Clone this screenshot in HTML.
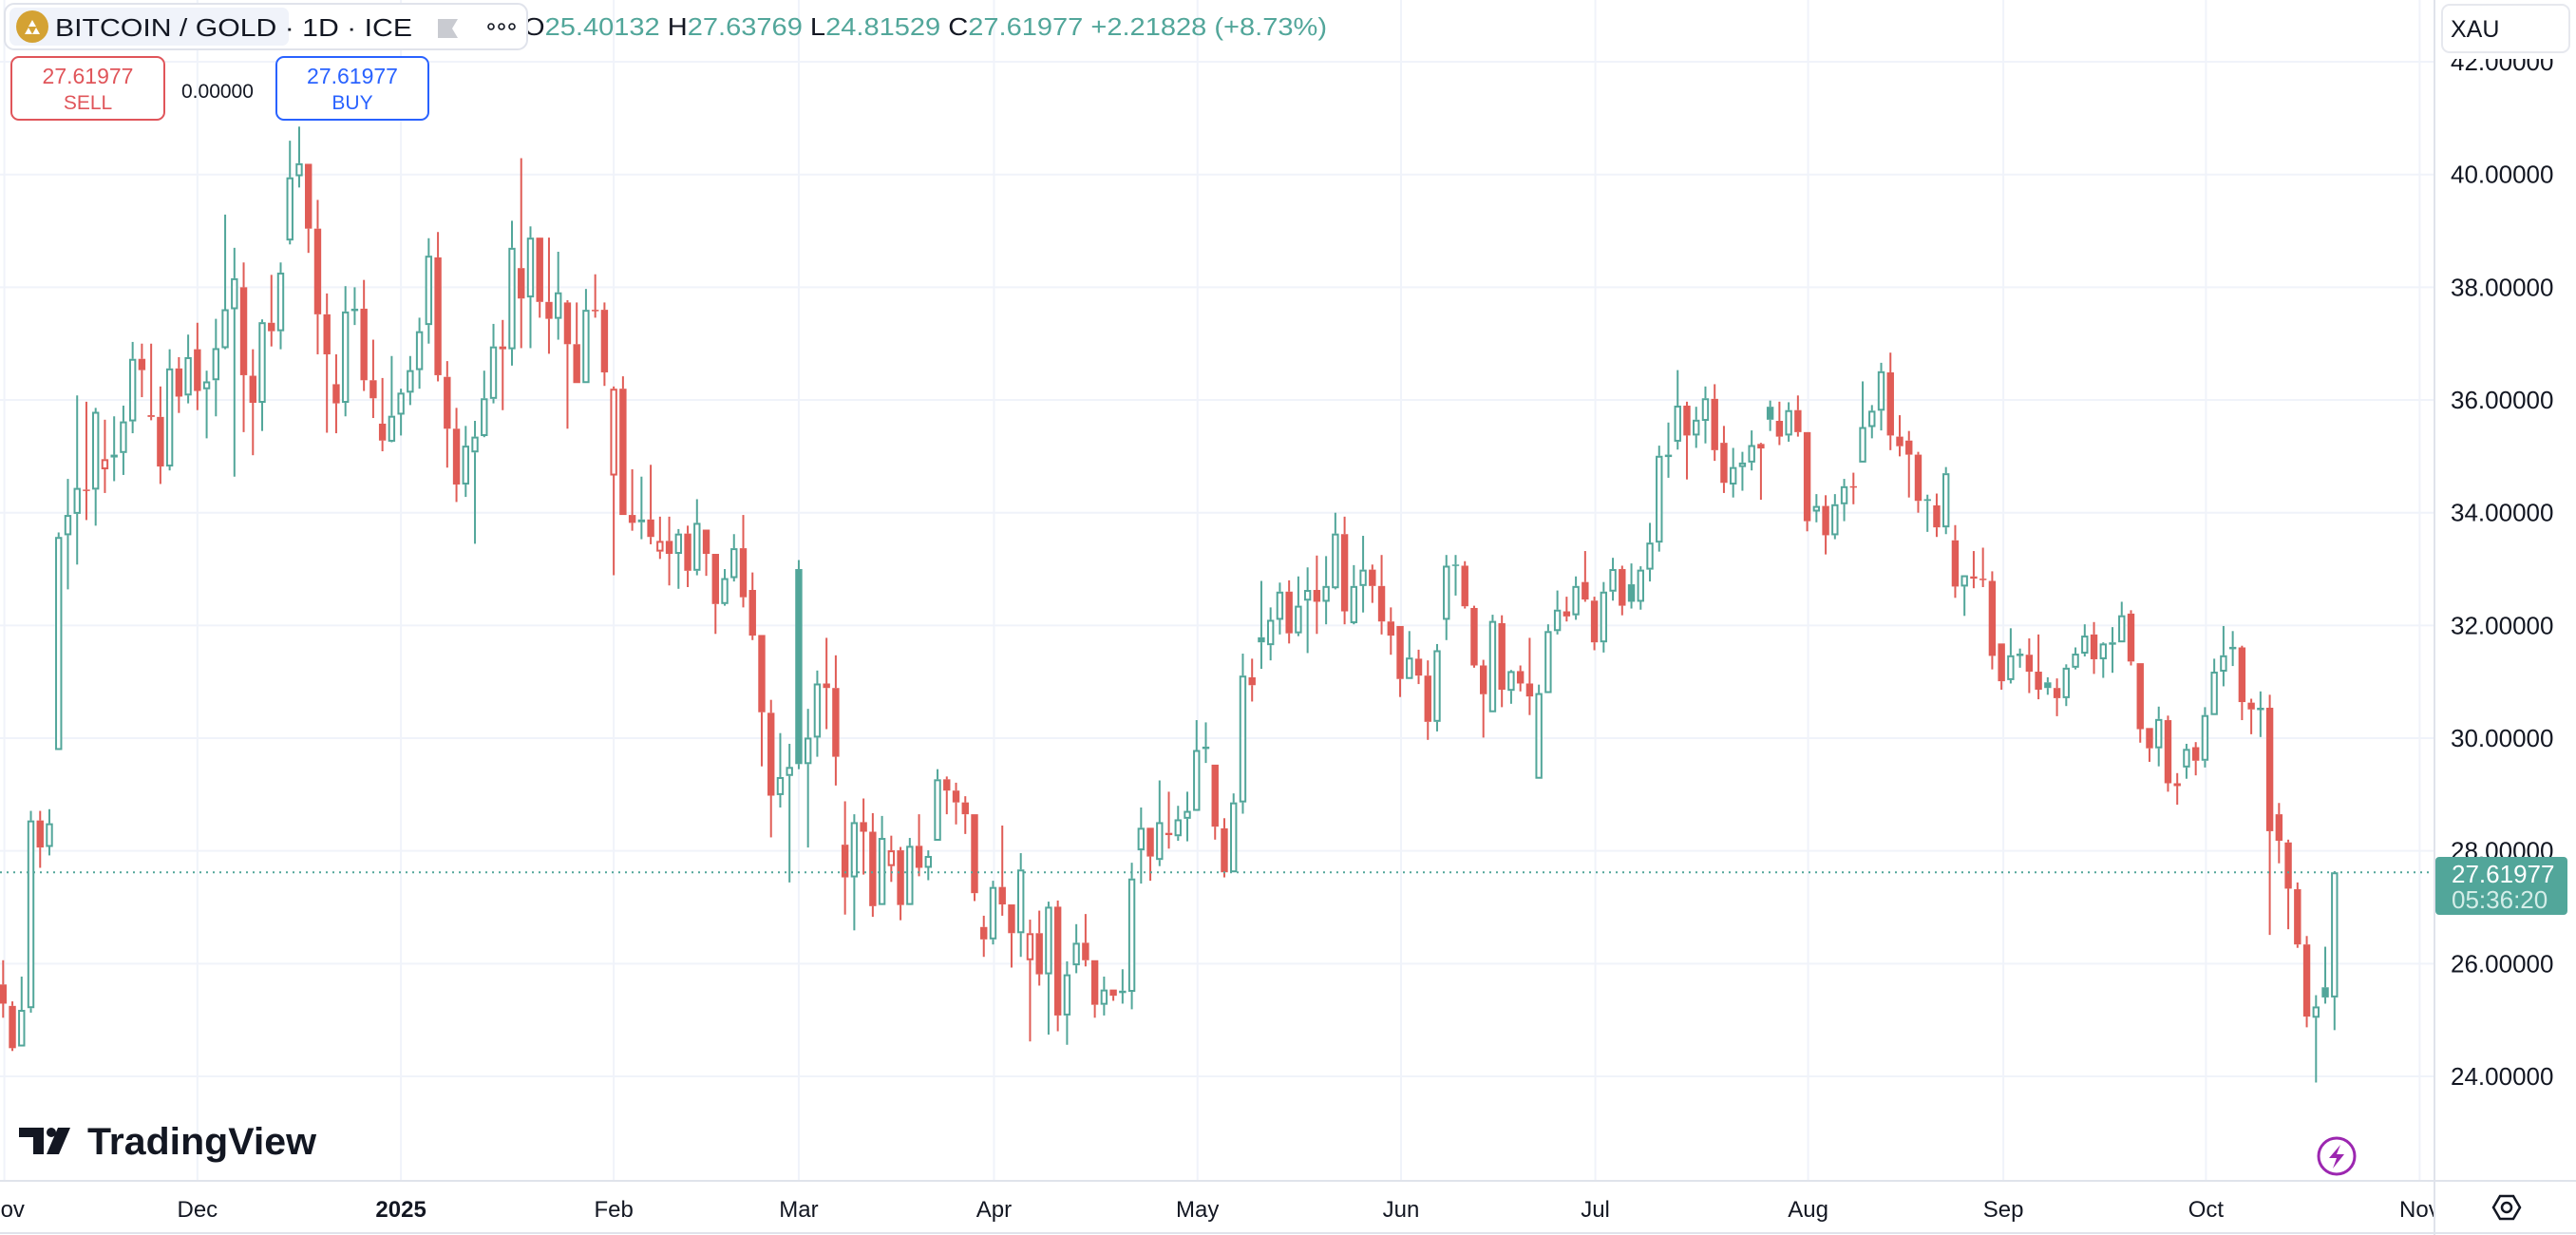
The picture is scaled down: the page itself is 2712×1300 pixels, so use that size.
<!DOCTYPE html>
<html><head><meta charset="utf-8"><title>BITCOIN / GOLD</title>
<style>
html,body{margin:0;padding:0;background:#fff;}
svg{display:block;font-family:"Liberation Sans",sans-serif;}
</style></head>
<body>
<svg id="chart" width="2712" height="1300" viewBox="0 0 2712 1300" xmlns="http://www.w3.org/2000/svg">
  <rect x="0" y="0" width="2712" height="1300" fill="#ffffff"/>
  <g id="grid"></g>
  <g id="candles"></g>
  <line id="lastline" x1="0" x2="2563" stroke="#52a69a" stroke-width="2" stroke-dasharray="2 5"/>
  <!-- axes -->
  <rect x="2563" y="0" width="149" height="1300" fill="#fff"/>
  <line x1="2563" y1="0" x2="2563" y2="1300" stroke="#e0e3eb" stroke-width="2"/>
  <line x1="0" y1="1243" x2="2712" y2="1243" stroke="#e0e3eb" stroke-width="2"/>
  <line x1="0" y1="1298" x2="2712" y2="1298" stroke="#e0e3eb" stroke-width="2"/>
  <g id="yticks"></g>
  <g id="xticks"></g>

  <!-- header -->
  <text x="551" y="37" font-size="26" textLength="846" lengthAdjust="spacingAndGlyphs"><tspan fill="#131722">O</tspan><tspan fill="#52a69a">25.40132 </tspan><tspan fill="#131722">H</tspan><tspan fill="#52a69a">27.63769 </tspan><tspan fill="#131722">L</tspan><tspan fill="#52a69a">24.81529 </tspan><tspan fill="#131722">C</tspan><tspan fill="#52a69a">27.61977 +2.21828 (+8.73%)</tspan></text>
  <g>
    <rect x="5" y="4" width="550" height="48" rx="10" fill="#ffffff" stroke="#e0e3eb" stroke-width="2"/>
    <rect x="10" y="8" width="294" height="40" rx="7" fill="#f0f3fa"/>
    <circle cx="34" cy="28" r="17" fill="#d4a233"/>
    <path d="M26 36 L30 29 L34 36 Z M34 36 L38 29 L42 36 Z M30 28 L34 21 L38 28 Z" fill="#fff"/>
    <text x="58" y="38" font-size="26" fill="#131722" textLength="376" lengthAdjust="spacingAndGlyphs">BITCOIN / GOLD · 1D · ICE</text>
    <path d="M461 20 L482 20 L476 30 L482 40 L461 40 Z" fill="#c9cbd1"/>
    <g fill="none" stroke="#131722" stroke-width="1.6">
      <circle cx="517" cy="28" r="3"/><circle cx="528" cy="28" r="3"/><circle cx="539" cy="28" r="3"/>
    </g>
  </g>
  <g>
    <rect x="12" y="60" width="161" height="66" rx="8" fill="#fff" stroke="#e0555a" stroke-width="2"/>
    <text x="92.5" y="88" font-size="23" fill="#e0555a" text-anchor="middle">27.61977</text>
    <text x="92.5" y="115" font-size="21" fill="#e0555a" text-anchor="middle">SELL</text>
  </g>
  <text x="191" y="103" font-size="21" fill="#131722">0.00000</text>
  <g>
    <rect x="291" y="60" width="160" height="66" rx="8" fill="#fff" stroke="#2962ff" stroke-width="2"/>
    <text x="371" y="88" font-size="23" fill="#2962ff" text-anchor="middle">27.61977</text>
    <text x="371" y="115" font-size="21" fill="#2962ff" text-anchor="middle">BUY</text>
  </g>

  <g>
    <rect x="2565" y="0" width="147" height="62" fill="#fff"/>
    <rect x="2571" y="5" width="134" height="50" rx="8" fill="#fff" stroke="#e6e8ee" stroke-width="2"/>
    <text x="2580" y="39" font-size="25" fill="#131722">XAU</text>
  </g>

  <g>
    <rect x="2564" y="902" width="139" height="61" rx="4" fill="#52a69a"/>
    <text x="2581" y="929" font-size="26" fill="#ffffff">27.61977</text>
    <text x="2581" y="956" font-size="26" fill="#d4ede8">05:36:20</text>
  </g>

  <g>
    <path d="M20 1187 H46 V1215 H35 V1197 H20 Z" fill="#131722"/>
    <circle cx="54" cy="1192" r="5" fill="#131722"/>
    <path d="M61 1187 H74 L62 1215 H49 Z" fill="#131722"/>
    <text x="92" y="1215" font-size="40" font-weight="bold" fill="#131722" textLength="241" lengthAdjust="spacingAndGlyphs">TradingView</text>
  </g>

  <g>
    <circle cx="2460" cy="1217" r="19" fill="none" stroke="#9c27b0" stroke-width="3"/>
    <path d="M2464 1205 L2452 1219 L2460 1219 L2456 1230 L2468 1215 L2460 1215 Z" fill="#9c27b0"/>
  </g>
  <g fill="none" stroke="#131722" stroke-width="2.5">
    <path d="M2625 1271 L2632 1259 L2646 1259 L2653 1271 L2646 1283 L2632 1283 Z"/>
    <circle cx="2639" cy="1271" r="5"/>
  </g>
</svg>
<script>
const opens = [25.63,25.25,24.53,25.21,28.54,28.07,29.79,33.60,33.98,34.41,34.41,34.77,34.98,35.06,35.62,36.73,35.73,35.70,34.82,36.56,36.08,36.90,36.19,36.35,36.92,37.61,38.00,36.43,35.95,37.37,37.22,38.83,39.97,40.19,39.04,37.52,36.28,35.95,37.60,37.62,36.35,35.58,35.26,35.74,36.13,36.53,37.33,38.53,36.41,35.49,34.50,35.07,35.36,36.02,36.95,36.90,38.34,37.82,38.88,37.74,37.44,37.73,36.99,36.30,37.60,37.60,34.66,36.20,33.96,33.83,33.88,33.31,33.50,33.27,33.63,32.97,33.70,33.27,32.38,32.84,33.37,32.63,31.83,30.45,28.99,29.33,33.00,29.54,30.01,30.97,30.89,28.11,27.53,28.51,28.34,27.04,27.73,28.01,27.04,28.09,27.70,28.18,29.27,29.07,28.86,28.65,26.65,26.43,27.36,27.05,26.54,26.06,26.54,25.81,27.01,25.08,25.97,26.37,26.06,25.27,25.54,25.50,25.50,28.01,28.41,27.84,28.32,28.26,28.57,28.71,29.81,29.53,28.40,27.62,28.86,31.08,31.79,31.65,32.10,32.60,31.86,32.44,32.63,32.42,32.66,33.62,32.04,32.70,32.99,32.70,32.07,31.99,31.05,31.41,31.11,30.29,32.10,33.08,33.06,32.31,31.29,30.46,32.04,30.84,31.19,30.97,29.28,30.80,31.90,32.25,32.18,32.77,32.44,31.70,32.60,33.00,32.73,32.42,32.99,33.47,35.01,35.26,35.90,35.37,35.63,36.02,35.24,34.50,34.81,34.89,35.22,35.88,35.63,35.37,35.82,35.43,34.02,34.12,33.60,34.15,34.47,34.89,35.52,35.81,36.49,35.35,35.28,35.03,34.24,34.13,33.74,33.51,32.69,32.87,32.83,32.79,31.68,31.03,31.48,31.48,31.18,30.99,30.89,30.71,31.25,31.50,31.84,31.40,31.69,31.70,32.21,31.33,30.18,29.82,30.32,29.20,29.48,29.84,29.60,30.41,31.18,31.61,31.61,30.63,30.52,30.54,28.65,28.15,27.32,26.34,25.04,25.58,25.40];
const highs = [26.06,25.33,25.77,28.71,28.71,28.74,33.65,34.60,36.08,35.97,35.86,35.65,35.71,35.90,37.03,37.00,37.00,36.24,36.90,36.76,37.16,37.37,36.52,37.44,39.29,38.70,38.44,36.90,37.43,38.22,38.44,40.60,40.85,40.19,39.55,37.89,36.81,38.02,38.00,38.13,37.07,36.39,36.78,36.20,36.78,37.46,38.87,38.98,36.69,35.86,35.54,35.63,36.52,37.35,37.42,39.18,40.29,39.08,38.88,38.88,38.63,37.77,37.73,37.97,38.23,37.73,36.24,36.42,34.77,34.64,34.85,33.93,33.93,33.71,33.77,34.24,33.70,33.27,33.00,33.62,33.96,32.94,31.83,30.68,30.09,29.90,33.16,30.52,31.20,31.78,31.47,28.88,28.65,28.93,28.67,28.62,28.27,28.07,28.23,28.65,28.01,29.45,29.32,29.21,28.97,28.65,26.85,27.47,28.45,27.05,27.96,26.78,26.94,27.10,27.12,26.04,26.70,26.88,26.06,25.77,25.54,25.90,27.79,28.77,28.41,29.25,29.05,28.80,29.05,30.32,30.28,29.53,28.58,29.02,31.50,31.41,32.79,32.32,32.76,32.80,32.87,33.03,33.24,33.23,34.00,33.93,33.07,33.59,33.08,33.25,32.32,31.99,31.90,31.57,31.38,31.67,33.25,33.25,33.14,32.35,31.39,32.19,32.18,31.21,31.29,31.78,30.95,32.02,32.62,32.51,32.87,33.32,32.51,32.77,33.20,33.06,33.10,33.05,33.82,35.19,35.60,36.53,35.97,35.88,36.24,36.28,35.54,35.15,35.08,35.46,35.24,35.99,35.97,35.96,36.08,35.43,34.33,34.31,34.33,34.60,34.71,36.33,35.91,36.66,36.84,35.73,35.45,35.08,34.32,34.34,34.81,33.78,32.89,33.32,33.38,32.96,31.68,31.95,31.59,31.77,31.84,31.08,31.06,31.31,31.61,32.02,32.06,31.70,31.97,32.42,32.27,31.33,30.18,30.56,30.40,29.38,29.90,29.93,30.55,31.41,31.99,31.90,31.64,30.70,30.83,30.77,28.85,28.20,27.44,26.49,25.44,26.30,27.64];
const lows = [25.04,24.45,24.53,25.13,27.70,27.92,29.79,32.64,33.08,33.87,33.77,34.35,34.56,34.67,35.41,36.05,35.64,34.51,34.75,35.77,35.94,35.82,35.32,35.71,36.90,34.64,35.43,35.02,35.45,36.95,36.90,38.76,39.77,38.61,36.81,35.42,35.41,35.71,37.33,36.16,35.68,35.09,35.25,35.37,35.91,36.20,37.00,36.33,34.80,34.19,34.28,33.45,35.34,35.94,35.82,36.61,36.92,36.92,37.46,36.82,37.07,35.49,36.30,36.30,37.46,36.25,32.89,33.96,33.68,33.53,33.44,33.18,32.71,32.65,32.68,32.89,32.88,31.85,32.35,32.78,32.32,31.74,29.50,28.24,28.77,27.44,29.45,28.06,29.67,30.16,29.16,26.87,26.59,27.58,26.83,27.04,27.45,26.77,27.04,27.55,27.48,28.18,28.65,28.47,28.30,27.11,26.12,26.34,26.85,25.93,26.12,24.62,25.61,24.74,24.80,24.56,25.83,25.95,25.04,25.08,25.34,25.29,25.19,27.42,27.47,27.73,28.04,28.18,28.17,28.71,29.56,28.20,27.53,27.62,28.66,30.65,31.23,31.38,31.84,31.68,31.81,31.51,31.85,32.02,32.64,32.02,32.02,32.23,32.40,31.84,31.48,30.73,31.05,30.96,29.97,30.12,31.74,32.53,32.30,31.25,30.01,30.46,30.55,30.61,30.83,30.41,29.28,30.80,31.84,32.07,32.10,32.42,31.56,31.52,32.44,32.18,32.30,32.28,32.78,33.31,34.62,35.12,34.59,35.15,35.23,34.92,34.35,34.27,34.39,34.75,34.23,35.45,35.20,35.26,35.35,33.67,33.83,33.26,33.53,33.85,34.15,34.89,35.32,35.46,35.11,35.00,34.27,34.00,33.66,33.57,33.62,32.49,32.17,32.66,32.68,31.22,30.86,30.97,31.25,30.80,30.69,30.77,30.39,30.57,31.22,31.45,31.14,31.07,31.16,31.70,31.29,29.92,29.58,29.50,29.05,28.82,29.28,29.34,29.48,30.41,30.92,31.28,30.32,30.07,30.02,26.51,27.78,26.61,26.28,24.87,23.89,25.29,24.82];
const closes = [25.29,24.50,25.18,28.54,28.06,28.49,33.57,33.96,34.44,34.40,35.79,34.95,35.03,35.62,36.73,36.53,35.70,34.82,36.56,36.06,36.76,36.16,36.33,36.92,37.61,38.16,36.44,35.95,37.38,37.22,38.26,39.95,40.20,39.04,37.52,36.81,35.94,37.57,37.62,36.35,36.03,35.28,35.72,36.13,36.53,37.22,38.56,36.44,35.49,34.50,35.19,35.35,36.03,36.95,36.90,38.70,37.80,38.88,37.74,37.44,37.91,36.99,36.30,37.60,37.59,36.49,36.20,33.96,33.82,33.88,33.57,33.50,33.27,33.63,32.97,33.82,33.27,32.38,32.84,33.37,32.50,31.82,30.46,28.98,29.31,29.49,29.54,30.01,30.97,30.89,29.67,27.53,28.51,28.34,27.02,28.23,28.01,27.04,28.09,27.70,27.91,29.27,29.07,28.86,28.65,27.25,26.43,27.36,27.05,26.54,27.67,26.54,25.81,27.01,25.08,25.81,26.37,26.06,25.27,25.54,25.43,25.52,27.51,28.41,27.90,28.51,28.28,28.56,28.71,29.79,29.85,28.43,27.62,28.86,31.11,30.94,31.70,32.10,32.60,31.86,32.35,32.63,32.42,32.70,33.63,32.25,32.70,32.99,32.70,32.07,31.82,31.05,31.43,31.11,30.29,31.56,33.06,33.06,32.34,31.29,30.78,32.08,30.86,31.19,30.97,30.74,30.80,31.90,32.28,32.16,32.70,32.46,31.70,32.60,33.00,32.35,32.42,32.99,33.47,35.01,35.03,35.90,35.37,35.65,36.03,35.11,34.53,34.81,34.89,35.20,35.14,35.65,35.35,35.82,35.43,33.85,34.12,33.60,34.15,34.47,34.45,35.52,35.81,36.51,35.37,35.18,35.03,34.21,34.21,33.74,34.70,32.69,32.89,32.83,32.81,31.46,31.01,31.47,31.50,31.18,30.86,30.89,30.71,31.25,31.50,31.82,31.40,31.68,31.70,32.18,31.36,30.16,29.82,30.34,29.20,29.15,29.81,29.60,30.41,31.18,31.47,31.62,30.64,30.51,30.54,28.35,28.18,27.33,26.34,25.06,25.24,25.40,27.62];
const priceTicks = [24, 26, 28, 30, 32, 34, 36, 38, 40, 42];
const monthLabels = ["Nov", "Dec", "2025", "Feb", "Mar", "Apr", "May", "Jun", "Jul", "Aug", "Sep", "Oct", "Nov"];
const monthIndex = [0.13, 21, 43, 66, 86, 107.1, 129.1, 151.1, 172.1, 195.1, 216.2, 238.1, 261.2];
const lastPrice = 27.61977;

const NS = "http://www.w3.org/2000/svg";
const PLOT_RIGHT = 2563, AXIS_Y = 1243;
function yScale(v) { return 1133 - (v - 24) * 59.33; }
function xScale(i) { return 3.3 + i * 9.74; }
function mk(tag, attrs, parent) {
  const e = document.createElementNS(NS, tag);
  for (const k in attrs) e.setAttribute(k, attrs[k]);
  parent.appendChild(e);
  return e;
}
const UP = "#52a69a", DOWN = "#e05c56";
const grid = document.getElementById("grid");
const yt = document.getElementById("yticks");
const xt = document.getElementById("xticks");
const cg = document.getElementById("candles");

priceTicks.forEach(function (v) {
  const gl = mk("line", {x1: 0, x2: PLOT_RIGHT, y1: yScale(v), y2: yScale(v), stroke: "#f0f3fa", "stroke-width": 2}, grid);
  
  
  const t = mk("text", {x: 2580, y: yScale(v) + 9, "font-size": 26, fill: "#131722"}, yt);
  t.textContent = v.toFixed(5);
  
  
});

monthIndex.forEach(function (mi, k) {
  const x = xScale(mi);
  const gl = mk("line", {x1: x, x2: x, y1: 0, y2: AXIS_Y, stroke: "#f0f3fa", "stroke-width": 2}, grid);
  
  
  const t = mk("text", {x: x, y: 1281, "font-size": 24, fill: "#131722", "text-anchor": "middle"}, xt);
  if (monthLabels[k] === "2025") t.setAttribute("font-weight", "bold");
  t.textContent = monthLabels[k];
  
  
});
const defs = mk("defs", {}, document.getElementById("chart"));
const cp = mk("clipPath", {id: "plotclip"}, defs);
mk("rect", {x: 0, y: 0, width: PLOT_RIGHT - 1, height: 1300}, cp);
xt.setAttribute("clip-path", "url(#plotclip)");
cg.setAttribute("clip-path", "url(#plotclip)");

const BW = 7.4;
for (let i = 0; i < closes.length; i++) {
  const o = opens[i], h = highs[i], l = lows[i], c = closes[i];
  const prev = i > 0 ? closes[i - 1] : o;
  const color = c >= prev ? UP : DOWN;
  const x = xScale(i);
  const g = mk("g", {}, cg);
  
  
  const top = yScale(Math.max(o, c)), bot = yScale(Math.min(o, c));
  mk("line", {x1: x, x2: x, y1: yScale(h), y2: top, stroke: color, "stroke-width": 2}, g);
  mk("line", {x1: x, x2: x, y1: bot, y2: yScale(l), stroke: color, "stroke-width": 2}, g);
  const bh = Math.max(bot - top, 1.5);
  if (c > o) {
    mk("rect", {x: x - BW / 2 + 1, y: top + 1, width: BW - 2, height: Math.max(bh - 2, 0.5), fill: "#fff", stroke: color, "stroke-width": 2}, g);
  } else {
    mk("rect", {x: x - BW / 2, y: top, width: BW, height: bh, fill: color}, g);
  }
}
const ll = document.getElementById("lastline");
ll.setAttribute("y1", yScale(lastPrice));
ll.setAttribute("y2", yScale(lastPrice));
</script>
</body></html>
